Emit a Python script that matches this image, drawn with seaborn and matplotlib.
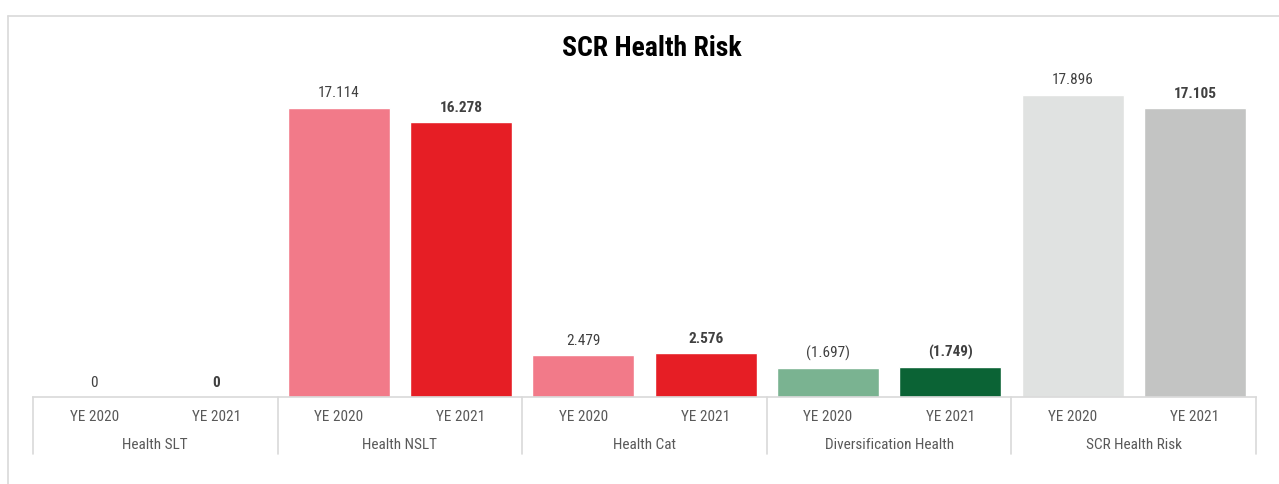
import matplotlib
matplotlib.use("Agg")
import matplotlib.pyplot as plt
import matplotlib.transforms as mtransforms
from matplotlib.lines import Line2D
import seaborn as sns
import pandas as pd

groups = ["Health SLT", "Health NSLT", "Health Cat", "Diversification Health", "SCR Health Risk"]
years = ["YE 2020", "YE 2021"]
values = [0, 0, 17.114, 16.278, 2.479, 2.576, -1.697, -1.749, 17.896, 17.105]
colors = ["#F27A89", "#E61E25", "#F27A89", "#E61E25", "#F27A89", "#E61E25",
          "#7AB391", "#0B6335", "#E0E2E1", "#C3C4C3"]

sns.set_theme(style="white")
FONT = ["Roboto Condensed", "Open Sans Condensed", "Archivo Narrow", "DejaVu Sans"]
plt.rcParams["font.family"] = FONT

keys = [f"{g}|{y}" for g in groups for y in years]
df = pd.DataFrame({"key": keys, "height": [abs(v) for v in values]})

fig = plt.figure(figsize=(12.79, 4.85), dpi=100)
W, H = 1279, 485
base_px = 398
top_px = 68.4
ax = fig.add_axes([33 / W, (H - base_px) / H, (1256 - 33) / W, (base_px - top_px) / H])

sns.barplot(data=df, x="key", y="height", hue="key", palette=colors, legend=False,
            width=0.834, ax=ax, saturation=1)
ax.set_ylim(0, 19.5)
ax.set_xlim(-0.5, len(keys) - 0.5)
for s in ["top", "right", "left"]:
    ax.spines[s].set_visible(False)
ax.spines["bottom"].set_color("#D9D9D9")
ax.spines["bottom"].set_linewidth(1.2)
ax.set_yticks([])
ax.set_xticks([])
ax.set_xlabel("")
ax.set_ylabel("")

# value labels
for i, v in enumerate(values):
    txt = f"({abs(v):.3f})" if v < 0 else ("0" if v == 0 else f"{v:.3f}")
    bold = (i % 2 == 1)
    ax.annotate(txt, (i, abs(v)), xytext=(0, 6), textcoords="offset points",
                ha="center", va="bottom", fontsize=11,
                fontweight="bold" if bold else "normal", color="#404040", family=FONT)

# category axis labels
trans = mtransforms.blended_transform_factory(ax.transData, ax.transAxes)
axh = base_px - top_px
for i, k in enumerate(keys):
    ax.text(i, -19 / axh, years[i % 2], transform=trans, ha="center", va="center",
            fontsize=11, color="#595959", family=FONT)
for gi, g in enumerate(groups):
    ax.text(gi * 2 + 0.5, -47 / axh, g, transform=trans, ha="center", va="center",
            fontsize=11, color="#595959", family=FONT)
for b in range(len(groups) + 1):
    x = b * 2 - 0.5
    ax.add_line(Line2D([x, x], [0, -57 / axh], transform=trans, color="#D9D9D9",
                       lw=1.2, clip_on=False))

# title
fig.text(652 / W, 1 - 48 / H, "SCR Health Risk", ha="center", va="center",
         fontsize=20, fontweight="bold", color="#000000", family=FONT)

# outer frame
fig.add_artist(Line2D([8 / W, 1], [1 - 17 / H, 1 - 17 / H], transform=fig.transFigure,
                      color="#D9D9D9", lw=1.2))
fig.add_artist(Line2D([8 / W, 8 / W], [0, 1 - 17 / H], transform=fig.transFigure,
                      color="#D9D9D9", lw=1.2))

fig.savefig("out.png", dpi=100)
